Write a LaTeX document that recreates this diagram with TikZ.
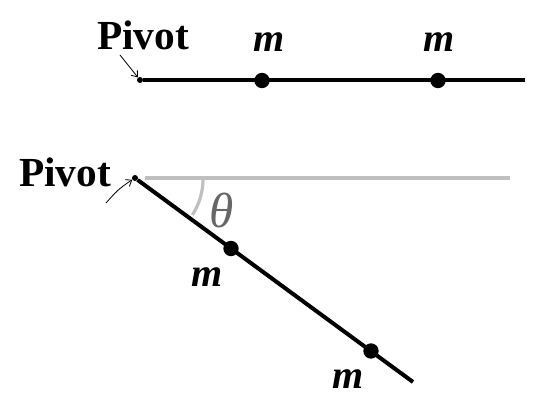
\documentclass[tikz,border=0pt]{standalone}
\usepackage{fontspec}
\setmainfont{Liberation Serif}
\usetikzlibrary{arrows.meta,positioning}

\begin{document}
\begin{tikzpicture}[
    x=0.75pt, y=0.75pt,
    rod/.style={line width=3pt, black},
    ref/.style={line width=2.4pt, black!25},
    pivotdot/.style={circle, fill=black, inner sep=0pt, minimum size=4.5pt},
    mass/.style={circle, fill=black, inner sep=0pt, minimum size=11.5pt},
    lbl/.style={font=\fontsize{31}{31}\selectfont\bfseries},
    mlbl/.style={font=\fontsize{30}{30}\selectfont\bfseries\itshape},
    hint/.style={-{Straight Barb[length=4pt,width=6pt]}, line width=0.6pt}
]
\useasboundingbox (0,0) rectangle (537,415);

% Horizontal rod
\node[pivotdot] (p1) at (140,335) {};
\coordinate (e1) at (525,335);
\draw[rod] (p1) -- (e1);
\node[mass] (m1) at (262,334.5) {};
\node[mass] (m2) at (438,334.5) {};
\node[mlbl] (lm1) at (269,373) {m};
\node[mlbl] (lm2) at (439,373) {m};
\node[lbl] (piv1) at (143,380) {Pivot};
\coordinate (h1) at (120,360);
\draw[hint] (h1) -- (p1);

% Tilted rod
\node[pivotdot] (p2) at (135,237) {};
\coordinate (g0) at (145,237);
\coordinate (g1) at (510,237);
\draw[ref] (g0) -- (g1);
\coordinate (e2) at (413,33);
\draw[rod] (p2) -- (e2);
\node[mass] (m3) at (231,166.5) {};
\node[mass] (m4) at (371,64) {};
\node[mlbl] (lm3) at (207,138) {m};
\node[mlbl] (lm4) at (348,36) {m};
\node[lbl] (piv2) at (65,243) {Pivot};
\coordinate (h2) at (106,212);
\draw[hint] (h2) .. controls (115,222) and (118,226) .. (p2);

% Angle
\draw[ref] (203,236) arc[start angle=0, end angle=-33, radius=66];
\node[font=\fontsize{37}{37}\selectfont\itshape, black!60] (th) at (222,205) {θ};
\end{tikzpicture}
\end{document}
